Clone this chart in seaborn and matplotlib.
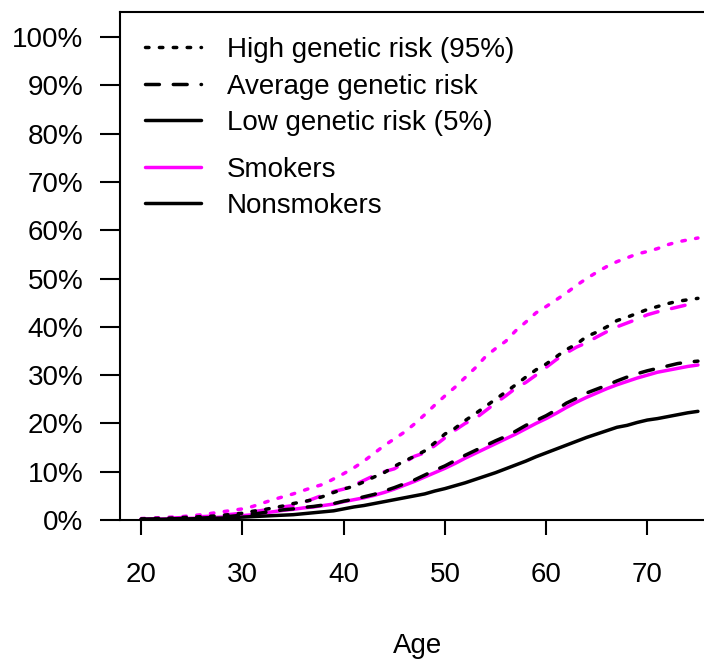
import pandas as pd
import matplotlib
matplotlib.use("Agg")
import matplotlib.pyplot as plt
from matplotlib.lines import Line2D
from matplotlib.ticker import FuncFormatter
import seaborn as sns

# cumulative risk (%) by age
ages = list(range(20, 76))

smoker_high = [0.3, 0.4, 0.5, 0.6, 0.7, 0.9, 1.1, 1.4, 1.7, 2.0,
               2.3, 2.8, 3.5, 4.2, 4.8, 5.4, 6.1, 6.8, 7.4, 8.5,
               9.6, 10.8, 12.2, 13.8, 15.4, 16.8, 18.2, 19.9, 21.8, 23.8,
               25.7, 27.5, 29.5, 31.5, 33.8, 35.5, 37.0, 39.2, 41.0, 42.9,
               44.2, 45.6, 47.0, 48.6, 50.0, 51.3, 52.5, 53.5, 54.3, 55.1,
               55.6, 56.2, 57.0, 57.6, 58.0, 58.4]
smoker_avg = [0.2, 0.25, 0.3, 0.4, 0.5, 0.6, 0.7, 0.8, 1.0, 1.2,
              1.4, 1.7, 2.0, 2.3, 2.7, 3.0, 3.6, 4.4, 5.2, 5.9,
              6.4, 7.2, 8.2, 9.2, 10.0, 10.6, 11.9, 13.2, 13.9, 15.4,
              17.0, 18.6, 20.0, 21.0, 22.6, 24.2, 25.7, 27.3, 28.5, 30.0,
              31.6, 33.2, 34.6, 35.8, 36.7, 37.9, 39.0, 40.0, 40.8, 41.6,
              42.5, 43.1, 43.6, 44.1, 44.6, 44.9]
smoker_low = [0.15, 0.2, 0.2, 0.25, 0.3, 0.35, 0.4, 0.5, 0.6, 0.75,
              0.9, 1.1, 1.4, 1.7, 2.0, 2.2, 2.5, 2.7, 3.0, 3.3,
              3.8, 4.2, 4.6, 5.1, 5.7, 6.4, 7.2, 8.0, 8.9, 9.8,
              10.7, 11.7, 12.8, 13.8, 14.8, 15.8, 16.8, 17.8, 18.9, 20.0,
              21.0, 22.1, 23.3, 24.4, 25.4, 26.3, 27.2, 28.0, 28.7, 29.4,
              30.0, 30.6, 31.0, 31.4, 31.8, 32.1]
nonsmoker_high = [0.2, 0.3, 0.35, 0.4, 0.5, 0.6, 0.7, 0.8, 0.95, 1.2,
                  1.4, 1.8, 2.1, 2.5, 2.9, 3.4, 3.8, 4.2, 4.9, 5.7,
                  6.4, 7.0, 7.9, 8.9, 9.8, 11.1, 12.2, 13.2, 14.3, 16.0,
                  17.8, 19.0, 20.6, 22.0, 23.5, 25.0, 26.5, 28.0, 29.6, 31.1,
                  32.3, 33.8, 35.3, 36.4, 38.0, 38.9, 40.0, 41.3, 42.0, 42.8,
                  43.6, 44.2, 44.8, 45.3, 45.6, 45.9]
nonsmoker_avg = [0.15, 0.2, 0.2, 0.25, 0.3, 0.35, 0.4, 0.5, 0.6, 0.8,
                 1.0, 1.2, 1.5, 1.8, 2.1, 2.3, 2.6, 2.8, 3.1, 3.4,
                 3.9, 4.3, 4.8, 5.3, 6.0, 6.7, 7.5, 8.3, 9.3, 10.3,
                 11.2, 12.3, 13.4, 14.4, 15.4, 16.4, 17.3, 18.4, 19.6, 20.6,
                 21.6, 22.8, 24.2, 25.2, 26.3, 27.1, 27.9, 28.8, 29.6, 30.3,
                 30.9, 31.4, 31.9, 32.4, 32.7, 32.9]
nonsmoker_low = [0.1, 0.1, 0.15, 0.2, 0.2, 0.25, 0.3, 0.35, 0.4, 0.5,
                 0.6, 0.7, 0.8, 0.9, 1.0, 1.1, 1.3, 1.5, 1.7, 1.9,
                 2.3, 2.7, 3.0, 3.4, 3.8, 4.2, 4.6, 5.0, 5.4, 6.0,
                 6.5, 7.1, 7.7, 8.4, 9.1, 9.8, 10.6, 11.4, 12.2, 13.1,
                 13.9, 14.7, 15.5, 16.3, 17.1, 17.8, 18.5, 19.2, 19.6, 20.2,
                 20.7, 21.0, 21.4, 21.8, 22.2, 22.5]

risk_labels = ["High genetic risk (95%)", "Average genetic risk", "Low genetic risk (5%)"]
groups = ["Smokers", "Nonsmokers"]

series = {
    ("Smokers", risk_labels[0]): smoker_high,
    ("Smokers", risk_labels[1]): smoker_avg,
    ("Smokers", risk_labels[2]): smoker_low,
    ("Nonsmokers", risk_labels[0]): nonsmoker_high,
    ("Nonsmokers", risk_labels[1]): nonsmoker_avg,
    ("Nonsmokers", risk_labels[2]): nonsmoker_low,
}
rows = []
for (grp, risk), vals in series.items():
    for a, v in zip(ages, vals):
        rows.append({"age": a, "risk": v, "group": grp, "genetic": risk})
df = pd.DataFrame(rows)

sns.set_theme(style="white")
plt.rcParams["font.family"] = ["Liberation Sans", "DejaVu Sans"]
plt.rcParams["font.size"] = 20
plt.rcParams["text.color"] = "black"
plt.rcParams["axes.labelcolor"] = "black"
plt.rcParams["xtick.color"] = "black"
plt.rcParams["ytick.color"] = "black"

palette = {"Smokers": "#FF00FF", "Nonsmokers": "black"}
dashes = {risk_labels[0]: (1, 3), risk_labels[1]: (4, 4), risk_labels[2]: ""}

fig = plt.figure(figsize=(7.04, 6.6), dpi=100)
ax = fig.add_axes([120 / 704, 140 / 660, 584 / 704, 508 / 660])

sns.lineplot(data=df, x="age", y="risk", hue="group", style="genetic",
             palette=palette, dashes=dashes, hue_order=groups,
             style_order=risk_labels, linewidth=2.5, legend=False, ax=ax)
for ln in ax.lines:
    ln.set_dash_capstyle("round")
    ln.set_solid_capstyle("round")

ax.set_xlim(17.9, 75.6)
ax.set_ylim(0, 105.2)
ax.set_xticks([20, 30, 40, 50, 60, 70])
ax.set_yticks(range(0, 101, 10))
ax.yaxis.set_major_formatter(FuncFormatter(lambda v, p: f"{v:.0f}%"))
ax.tick_params(axis="y", length=14.4, width=1.5, pad=12, labelsize=20,
               direction="out", left=True, colors="black")
ax.tick_params(axis="x", length=11, width=1.5, pad=19, labelsize=20,
               direction="out", bottom=True, colors="black")
for side in ["left", "top", "bottom"]:
    ax.spines[side].set_linewidth(1.5)
    ax.spines[side].set_color("black")
ax.spines["right"].set_visible(False)

ax.set_ylabel("")
ax.set_xlabel("Age", fontsize=20, color="black")
ax.xaxis.set_label_coords((418 - 120) / 584, -0.2225)

h1 = [Line2D([], [], color="black", lw=2.5, dash_capstyle="round") for r in risk_labels]
h1[0].set_dashes((1, 3))
h1[1].set_dashes((4, 4))
h1[2].set_linestyle("-")
leg1 = ax.legend(h1, risk_labels, loc="upper left", frameon=False, fontsize=20,
                 bbox_to_anchor=(145 / 704, 1 - 37 / 660), bbox_transform=fig.transFigure,
                 borderpad=0, borderaxespad=0, handlelength=2.0, handletextpad=0.95,
                 labelspacing=0.38)
ax.add_artist(leg1)

h2 = [Line2D([], [], color=palette[g], lw=2.5) for g in groups]
ax.legend(h2, groups, loc="upper left", frameon=False, fontsize=20,
          bbox_to_anchor=(145 / 704, 1 - 157 / 660), bbox_transform=fig.transFigure,
          borderpad=0, borderaxespad=0, handlelength=2.0, handletextpad=0.95,
          labelspacing=0.36)

fig.savefig("out.png", dpi=100)
